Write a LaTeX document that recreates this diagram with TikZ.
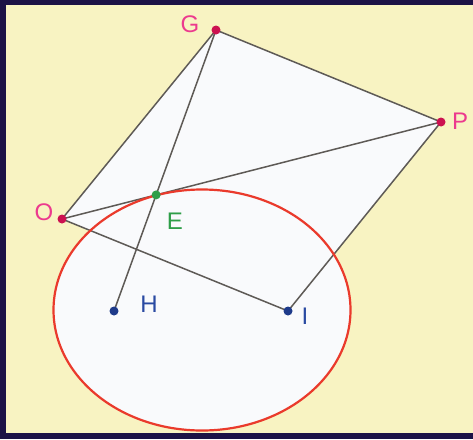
\documentclass[tikz,border=0pt]{standalone}
\usepackage{fontspec}
\setmainfont{Liberation Sans}
\usetikzlibrary{intersections}
\definecolor{bgyellow}{HTML}{F8F3C2}
\definecolor{framenavy}{HTML}{1C1246}
\definecolor{paper}{HTML}{F9FAFC}
\definecolor{segcol}{HTML}{5E5A56}
\definecolor{ellred}{HTML}{EA3A2C}
\definecolor{ptmag}{HTML}{CC1150}
\definecolor{lblpink}{HTML}{EC3A8E}
\definecolor{ptgreen}{HTML}{2E9E48}
\definecolor{ptblue}{HTML}{1E3A8A}
\definecolor{lblblue}{HTML}{2A4AA2}
\tikzset{
  seg/.style={draw=segcol,line width=1.5pt},
  dotpt/.style={circle,inner sep=0pt,minimum size=9pt},
  lbl/.style={font=\fontsize{24}{24}\selectfont,inner sep=0pt}
}
\begin{document}
\begin{tikzpicture}[x=1pt,y=-1pt]
\useasboundingbox (0,0) rectangle (473,439);
\fill[framenavy] (0,0) rectangle (473,439);
\fill[bgyellow] (6,5) rectangle (473,433);
% points
\coordinate (G) at (216,30);
\coordinate (P) at (441,122);
\coordinate (O) at (62,219);
\coordinate (H) at (114,311);
\coordinate (I) at (288,311);
\coordinate (C) at (202,310);
% fills
\fill[paper] (C) ellipse [x radius=148.5, y radius=120.5];
\fill[paper] (O) -- (G) -- (P) -- (I) -- cycle;
% segments
\draw[seg, name path=op] (O) -- (P);
\draw[seg, name path=gh] (G) -- (H);
\draw[seg] (O) -- (G);
\draw[seg] (G) -- (P);
\draw[seg] (P) -- (I);
\draw[seg] (I) -- (O);
\path[name intersections={of=op and gh, by=E}];
% ellipse
\draw[ellred,line width=2.2pt] (C) ellipse [x radius=148.5, y radius=120.5];
% dots
\node[dotpt,fill=ptmag] (dG) at (G) {};
\node[dotpt,fill=ptmag] (dP) at (P) {};
\node[dotpt,fill=ptmag] (dO) at (O) {};
\node[dotpt,fill=ptgreen] (dE) at (E) {};
\node[dotpt,fill=ptblue] (dH) at (H) {};
\node[dotpt,fill=ptblue] (dI) at (I) {};
% labels
\node[lbl,text=lblpink] (lG) at (190,24) {G};
\node[lbl,text=lblpink] (lP) at (460,121) {P};
\node[lbl,text=lblpink] (lO) at (44,212) {O};
\node[lbl,text=ptgreen] (lE) at (175,221) {E};
\node[lbl,text=lblblue] (lH) at (149,304) {H};
\node[lbl,text=lblblue] (lI) at (305,316) {I};
\end{tikzpicture}
\end{document}
